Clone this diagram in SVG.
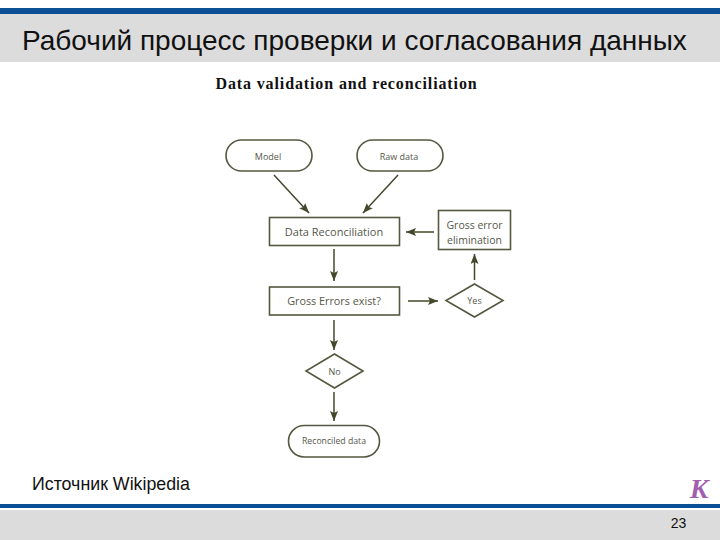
<svg xmlns="http://www.w3.org/2000/svg" width="720" height="540" viewBox="0 0 720 540">
<defs>
<marker id="arr" markerUnits="userSpaceOnUse" markerWidth="11" markerHeight="9" refX="10" refY="4" orient="auto"><path d="M0,0 L10,4 L0,8 L2,4 Z" fill="#45472a"/></marker>
</defs>
<style>
.n{fill:#fff;stroke:#55573f;stroke-width:1.6}
.l{font-family:"Open Sans","DejaVu Sans",sans-serif;fill:#55574a;text-anchor:middle}
.c{fill:none;stroke:#45472a;stroke-width:1.5;marker-end:url(#arr)}
.a{font-family:"Liberation Sans",Arial,sans-serif;fill:#111}
</style>
<rect width="720" height="540" fill="#fff"/>
<g id="header">
<rect x="0" y="14" width="720" height="48" fill="#dcdcdc"/>
<rect x="0" y="8" width="720" height="6" fill="#0b4f96"/>
<text class="a" x="22" y="50" font-size="28">Рабочий процесс проверки и согласования данных</text>
</g>
<text x="346.500" y="89" font-family="'Liberation Serif',serif" font-weight="bold" font-size="16" letter-spacing="0.880" text-anchor="middle" fill="#111">Data validation and reconciliation</text>
<g id="connectors">
<path class="c" d="M274,175 L309,213"/>
<path class="c" d="M398,175 L363,213"/>
<path class="c" d="M334,249 L334,281"/>
<path class="c" d="M434,232 L406,232"/>
<path class="c" d="M408,301 L438,301"/>
<path class="c" d="M474.500,280 L474.500,254"/>
<path class="c" d="M334,320 L334,350"/>
<path class="c" d="M334,392 L334,421"/>
</g>
<g id="model"><rect class="n" x="226" y="140" width="86" height="31" rx="15.500"/><text class="l" x="268" y="160" font-size="9">Model</text></g>
<g id="raw-data"><rect class="n" x="357" y="140" width="86" height="31" rx="15.500"/><text class="l" x="399" y="160" font-size="9">Raw data</text></g>
<g id="data-reconciliation"><rect class="n" x="269.500" y="217.500" width="130" height="28"/><text class="l" x="334" y="236" font-size="11">Data Reconciliation</text></g>
<g id="gross-error-elimination"><rect class="n" x="438.500" y="210.500" width="72" height="39"/><text class="l" x="474.500" y="229" font-size="10.500">Gross error</text><text class="l" x="474.500" y="244" font-size="10.500">elimination</text></g>
<g id="gross-errors-exist"><rect class="n" x="269.500" y="287" width="130" height="28"/><text class="l" x="334" y="305" font-size="10.800">Gross Errors exist?</text></g>
<g id="yes"><path class="n" d="M474.500,284 L503,300.500 L474.500,317 L446,300.500 Z"/><text class="l" x="474.500" y="304" font-size="9">Yes</text></g>
<g id="no"><path class="n" d="M334.500,354 L363,371 L334.500,388 L306,371 Z"/><text class="l" x="334.500" y="374.500" font-size="9">No</text></g>
<g id="reconciled-data"><rect class="n" x="288.500" y="425.500" width="91" height="31.500" rx="15.700"/><text class="l" x="334" y="444" font-size="8.700">Reconciled data</text></g>
<text class="a" x="32" y="490" font-size="17.800">Источник Wikipedia</text>
<g id="footer">
<rect x="0" y="510" width="720" height="30" fill="#dcdcdc"/>
<rect x="0" y="504" width="720" height="4" fill="#0b4f96"/>
<text x="699" y="498" font-family="'Liberation Serif',serif" font-style="italic" font-weight="bold" font-size="28" text-anchor="middle" fill="#a25fb0">K</text>
<text class="a" x="678.500" y="528" font-size="14" text-anchor="middle">23</text>
</g>
</svg>
